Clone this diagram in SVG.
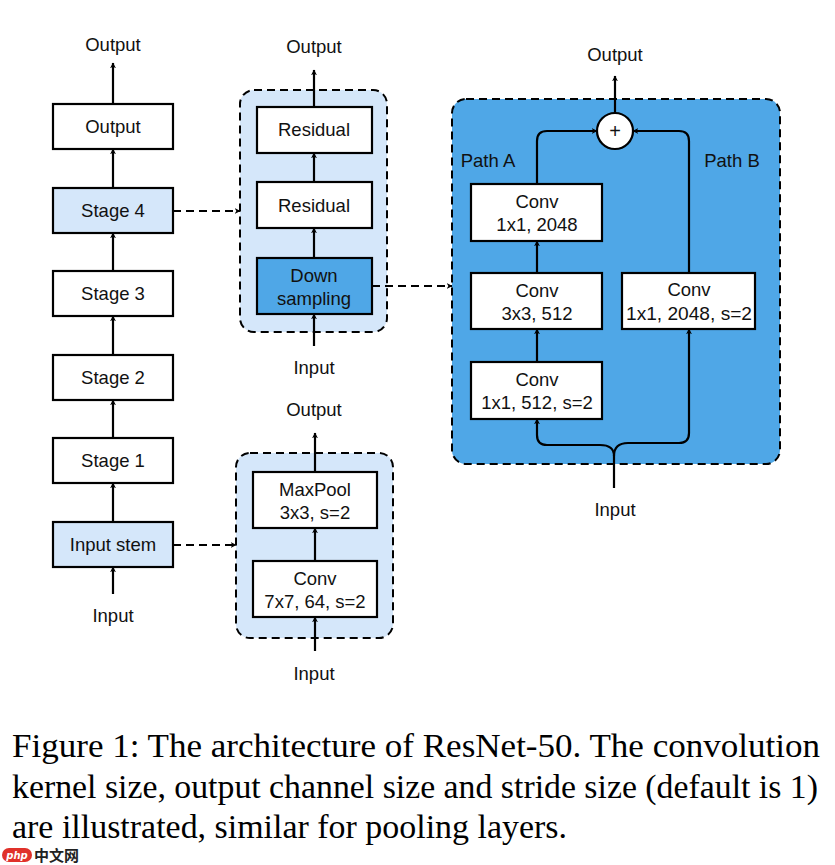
<svg xmlns="http://www.w3.org/2000/svg" width="835" height="865" viewBox="0 0 835 865">
<defs>
<marker id="ah" viewBox="0 0 10 10" refX="9" refY="5" markerWidth="6" markerHeight="6" markerUnits="userSpaceOnUse" orient="auto">
<path d="M0,0 L10,5 L0,10 L3,5 Z" fill="#000"/>
</marker>
<style>
.box{fill:#fff;stroke:#000;stroke-width:2.2}
.lb{fill:#d5e7fa;stroke:#000;stroke-width:2.2}
.db{fill:#4fa7e7;stroke:#000;stroke-width:2.2}
.panel{stroke:#000;stroke-width:2;stroke-dasharray:8,5}
.t{font-family:"Liberation Sans",Arial,sans-serif;font-size:18.5px;fill:#111;text-anchor:middle}
.c{fill:none;stroke:#000;stroke-width:2.2;marker-end:url(#ah)}
.d{fill:none;stroke:#000;stroke-width:1.8;stroke-dasharray:8,5;marker-end:url(#ah)}
.cap{font-family:"Liberation Serif","Times New Roman",serif;font-size:33.5px;fill:#000}
</style>
</defs>
<rect width="835" height="865" fill="#fff"/>

<!-- panels -->
<g id="panel-stage4">
<rect class="panel" x="240" y="90" width="147" height="242" rx="14" fill="#d5e7fa"/>
</g>
<g id="panel-stem">
<rect class="panel" x="236" y="453" width="157" height="185" rx="14" fill="#d5e7fa"/>
</g>
<g id="panel-down">
<rect class="panel" x="452" y="99" width="328" height="365" rx="14" fill="#4fa7e7"/>
</g>

<!-- left column -->
<g id="n-output"><rect class="box" x="53" y="104" width="120" height="45"/><text class="t" x="113" y="133">Output</text></g>
<g id="n-stage4"><rect class="lb" x="53" y="188" width="120" height="45"/><text class="t" x="113" y="217">Stage 4</text></g>
<g id="n-stage3"><rect class="box" x="53" y="271" width="120" height="45"/><text class="t" x="113" y="300">Stage 3</text></g>
<g id="n-stage2"><rect class="box" x="53" y="355" width="120" height="45"/><text class="t" x="113" y="384">Stage 2</text></g>
<g id="n-stage1"><rect class="box" x="53" y="438" width="120" height="45"/><text class="t" x="113" y="467">Stage 1</text></g>
<g id="n-stem"><rect class="lb" x="53" y="522" width="120" height="45"/><text class="t" x="113" y="551">Input stem</text></g>
<g id="t-left-out"><text class="t" x="113" y="51">Output</text></g>
<g id="t-left-in"><text class="t" x="113" y="622">Input</text></g>

<!-- stage 4 panel contents -->
<g id="n-res2"><rect class="box" x="257" y="107" width="115" height="46"/><text class="t" x="314" y="136">Residual</text></g>
<g id="n-res1"><rect class="box" x="257" y="182" width="115" height="46"/><text class="t" x="314" y="212">Residual</text></g>
<g id="n-down"><rect class="db" x="257" y="258" width="115" height="56"/><text class="t" x="314" y="282">Down</text><text class="t" x="314" y="305">sampling</text></g>
<g id="t-mid-out"><text class="t" x="314" y="53">Output</text></g>
<g id="t-mid-in"><text class="t" x="314" y="374">Input</text></g>

<!-- stem panel contents -->
<g id="n-maxpool"><rect class="box" x="253" y="472" width="124" height="56"/><text class="t" x="315" y="496">MaxPool</text><text class="t" x="315" y="519">3x3, s=2</text></g>
<g id="n-conv7"><rect class="box" x="253" y="561" width="124" height="56"/><text class="t" x="315" y="585">Conv</text><text class="t" x="315" y="608">7x7, 64, s=2</text></g>
<g id="t-bot-out"><text class="t" x="314" y="416">Output</text></g>
<g id="t-bot-in"><text class="t" x="314" y="680">Input</text></g>

<!-- downsampling panel contents -->
<g id="n-convA3"><rect class="box" x="471" y="184" width="131" height="57"/><text class="t" x="537" y="208">Conv</text><text class="t" x="537" y="231">1x1, 2048</text></g>
<g id="n-convA2"><rect class="box" x="471" y="273" width="131" height="56"/><text class="t" x="537" y="297">Conv</text><text class="t" x="537" y="320">3x3, 512</text></g>
<g id="n-convA1"><rect class="box" x="471" y="362" width="131" height="57"/><text class="t" x="537" y="386">Conv</text><text class="t" x="537" y="409">1x1, 512, s=2</text></g>
<g id="n-convB"><rect class="box" x="622" y="273" width="133" height="56"/><text class="t" x="689" y="296">Conv</text><text class="t" x="689" y="320" textLength="126" lengthAdjust="spacingAndGlyphs">1x1, 2048, s=2</text></g>
<g id="n-add"><circle cx="615" cy="131" r="18" fill="#fff" stroke="#000" stroke-width="2.2"/><text class="t" x="615" y="138" style="font-size:20px">+</text></g>
<g id="t-pathA"><text class="t" x="488" y="167">Path A</text></g>
<g id="t-pathB"><text class="t" x="732" y="167">Path B</text></g>
<g id="t-right-out"><text class="t" x="615" y="61">Output</text></g>
<g id="t-right-in"><text class="t" x="615" y="516">Input</text></g>

<!-- connectors -->
<g id="connectors">
<line class="c" x1="113" y1="104" x2="113" y2="63"/>
<line class="c" x1="113" y1="188" x2="113" y2="149"/>
<line class="c" x1="113" y1="271" x2="113" y2="233"/>
<line class="c" x1="113" y1="355" x2="113" y2="316"/>
<line class="c" x1="113" y1="438" x2="113" y2="400"/>
<line class="c" x1="113" y1="522" x2="113" y2="483"/>
<line class="c" x1="113" y1="594" x2="113" y2="567"/>

<line class="c" x1="314" y1="107" x2="314" y2="70"/>
<line class="c" x1="314" y1="182" x2="314" y2="153"/>
<line class="c" x1="314" y1="258" x2="314" y2="228"/>
<line class="c" x1="314" y1="346" x2="314" y2="314"/>

<line class="c" x1="315" y1="472" x2="315" y2="433"/>
<line class="c" x1="315" y1="561" x2="315" y2="528"/>
<line class="c" x1="315" y1="651" x2="315" y2="617"/>

<line class="d" x1="173" y1="211" x2="240" y2="211"/>
<line class="d" x1="173" y1="545" x2="236" y2="545"/>
<line class="d" x1="372" y1="286" x2="452" y2="286"/>

<line class="c" x1="615" y1="113" x2="615" y2="76"/>
<path class="c" d="M537,184 V141 Q537,131 547,131 H597"/>
<path class="c" d="M689,273 V141 Q689,131 679,131 H633"/>
<line class="c" x1="537" y1="273" x2="537" y2="241"/>
<line class="c" x1="537" y1="362" x2="537" y2="329"/>
<path class="c" d="M614,488 V456 Q614,445 600,445 H547 Q537,445 537,435 V419"/>
<path class="c" d="M614,456 Q614,443 628,443 H679 Q689,443 689,433 V329"/>
</g>

<!-- caption -->
<g id="caption">
<text class="cap" x="12" y="757" textLength="808" lengthAdjust="spacingAndGlyphs">Figure 1:  The architecture of ResNet-50.  The convolution</text>
<text class="cap" x="12" y="798" textLength="806" lengthAdjust="spacingAndGlyphs">kernel size, output channel size and stride size (default is 1)</text>
<text class="cap" x="12" y="838" textLength="555" lengthAdjust="spacingAndGlyphs">are illustrated, similar for pooling layers.</text>
</g>

<!-- watermark -->
<g id="watermark">
<rect x="2" y="848" width="30" height="14" rx="7" fill="#e0312a"/>
<text x="17" y="859" text-anchor="middle" font-family="'DejaVu Sans',sans-serif" font-size="10" font-style="italic" font-weight="bold" fill="#fff">php</text>
<text x="34" y="861" font-family="'Noto Sans CJK SC',sans-serif" font-size="15" font-weight="bold" fill="#222">中文网</text>
</g>
</svg>
